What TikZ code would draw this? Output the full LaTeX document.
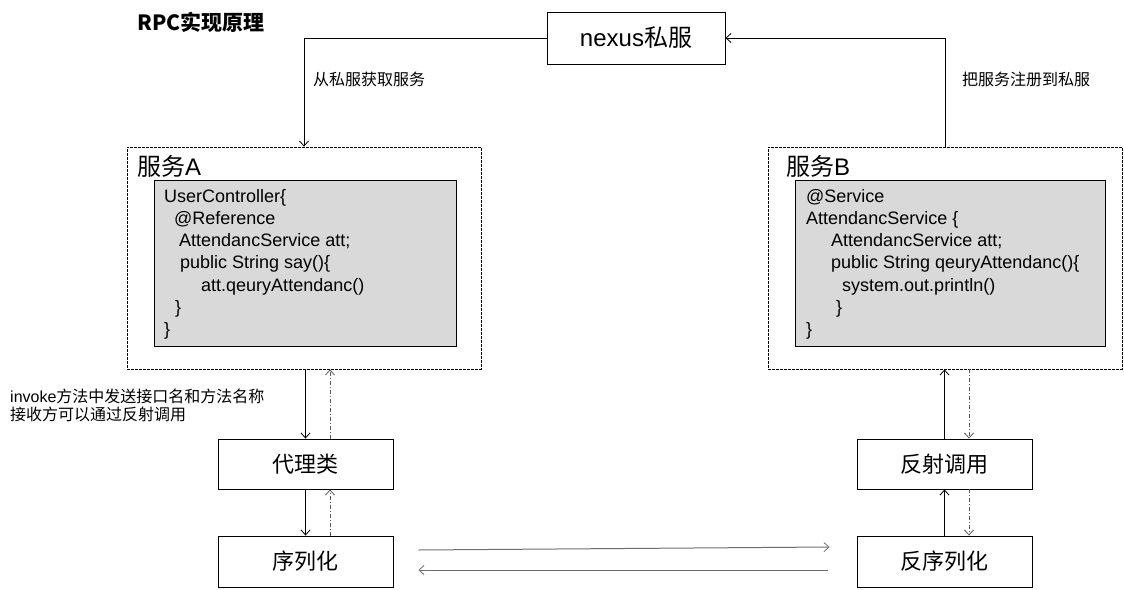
\documentclass[tikz,border=0pt]{standalone}
\usepackage{fontspec}
\setmainfont{Liberation Sans}
\newfontfamily\cjk{Noto Sans CJK SC}
\usetikzlibrary{arrows.meta}
\definecolor{codegray}{HTML}{D9D9D9}
\definecolor{linegray}{HTML}{6E6E6E}
\begin{document}
\begin{tikzpicture}[x=1pt,y=-1pt,
  every node/.style={inner sep=0pt},
  solidbox/.style={draw=black, line width=0.9pt, minimum width=175pt, minimum height=50pt, font=\fontsize{22}{24}\selectfont\cjk},
  dashbox/.style={draw=black, line width=0.8pt, dash pattern=on 3pt off 1pt, minimum width=354pt, minimum height=222pt},
  codebox/.style={draw=black, line width=0.9pt, fill=codegray, minimum height=166pt},
  codetext/.style={anchor=north west, align=left, font=\fontsize{18}{22.2}\selectfont},
  lbl/.style={font=\fontsize{16}{18}\selectfont\cjk},
  tip/.style={-{Straight Barb[length=5pt,width=9pt,line width=0.8pt]}},
  arr/.style={tip, draw=black, line width=0.8pt},
  dasharr/.style={tip, draw=black!65, line width=0.8pt, dash pattern=on 4pt off 2pt on 1pt off 2pt},
  harr/.style={tip, draw=linegray, line width=1pt}
]
\useasboundingbox (0,0) rectangle (1124,589);

% title
\node[anchor=west, font=\fontsize{21}{23}\selectfont\cjk\bfseries] (title) at (137,22) {RPC实现原理};

% nexus
\node[draw=black, line width=0.9pt, minimum width=178pt, minimum height=52pt, font=\fontsize{24}{26}\selectfont] (nexus) at (636,38) {nexus{\cjk 私服}};

% services
\node[dashbox] (svcA) at (304,258) {};
\node[dashbox] (svcB) at (945,258) {};
\node[anchor=west, font=\fontsize{24}{26}\selectfont] (svcAt) at (137,166) {{\cjk 服务}A};
\node[anchor=west, font=\fontsize{24}{26}\selectfont] (svcBt) at (786,166) {{\cjk 服务}B};

\node[codebox, minimum width=302pt] (codeA) at (305,263) {};
\node[codebox, minimum width=310pt] (codeB) at (950,263) {};

\node[codetext] (codeAt) at (164,189) {UserController\{\\
\hspace*{10pt}@Reference\\
\hspace*{15pt}AttendancService att;\\
\hspace*{16pt}public String say()\{\\
\hspace*{37pt}att.qeuryAttendanc()\\
\hspace*{11pt}\}\\
\}};

\node[codetext] (codeBt) at (806,189) {@Service\\
AttendancService \{\\
\hspace*{25pt}AttendancService att;\\
\hspace*{25pt}public String qeuryAttendanc()\{\\
\hspace*{36pt}system.out.println()\\
\hspace*{30pt}\}\\
\}};

% lower boxes
\node[solidbox] (proxy) at (305.5,464) {代理类};
\node[solidbox, minimum height=51pt] (ser) at (305.5,561.5) {序列化};
\node[solidbox] (refl) at (944.5,464) {反射调用};
\node[solidbox, minimum height=51pt] (deser) at (944.5,561.5) {反序列化};

% labels
\node[lbl, anchor=west] (l1) at (313,79) {从私服获取服务};
\node[lbl, anchor=west] (l2) at (962,79) {把服务注册到私服};
\node[anchor=west, align=left, font=\fontsize{16}{18}\selectfont] (l3) at (10,405) {invoke{\cjk 方法中发送接口名和方法名称}\\{\cjk 接收方可以通过反射调用}};

% connectors top
\draw[arr] (nexus.west) -| (svcA.north);
\draw[arr] (svcB.north) |- (nexus.east);

% left chain
\draw[arr] (proxy.north |- svcA.south) -- (proxy.north);
\draw[dasharr] ([xshift=24.5pt]proxy.north) -- ([xshift=24.5pt]proxy.north |- svcA.south);
\draw[arr] (proxy.south) -- (ser.north);
\draw[dasharr] ([xshift=24.5pt]ser.north) -- ([xshift=24.5pt]proxy.south);

% right chain
\draw[arr] (refl.north) -- (refl.north |- svcB.south);
\draw[dasharr] ([xshift=24.5pt]refl.north |- svcB.south) -- ([xshift=24.5pt]refl.north);
\draw[arr] (deser.north) -- (refl.south);
\draw[dasharr] ([xshift=24.5pt]refl.south) -- ([xshift=24.5pt]deser.north);

% horizontal
\draw[harr] ([shift={(25,-11.5)}]ser.east) -- ([shift={(-27,-14.5)}]deser.west);
\draw[harr] ([shift={(-29,8.5)}]deser.west) -- ([shift={(25,8.5)}]ser.east);
\end{tikzpicture}
\end{document}
